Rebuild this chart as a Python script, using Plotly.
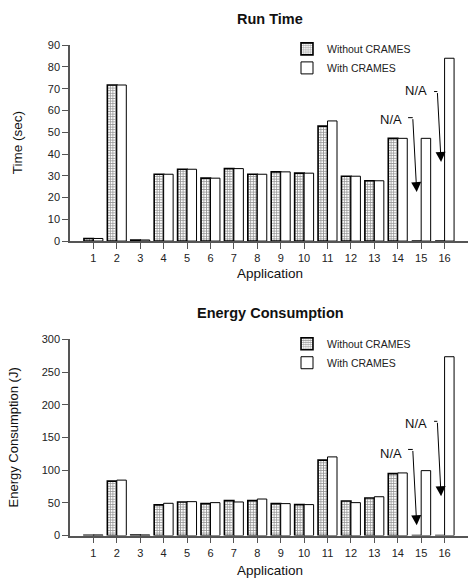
import plotly.graph_objects as go

apps = [str(i) for i in range(1, 17)]
time_without = [1.2, 71.7, 0.5, 30.7, 33.0, 28.9, 33.3, 30.7, 31.8, 31.2, 52.8, 29.8, 27.7, 47.2, 0, 0]
time_with = [1.2, 71.7, 0.5, 30.7, 33.0, 28.9, 33.3, 30.7, 31.8, 31.2, 55.2, 29.8, 27.7, 47.2, 47.2, 84.0]
energy_without = [0.5, 83.3, 1.0, 46.9, 51.4, 48.9, 53.4, 53.4, 48.9, 47.4, 115.3, 52.9, 57.4, 94.8, 0, 0]
energy_with = [1.0, 84.8, 1.0, 49.4, 51.9, 50.4, 51.4, 55.9, 48.9, 47.4, 120.3, 50.4, 59.4, 95.8, 99.3, 273.4]

x_num = list(range(1, 17))
FONT = "Arial, Liberation Sans, sans-serif"
AX = "#555555"

W, H = 468, 585
L = 70
PW = 398
R = W - L - PW


def px_x(p):
    return (p - L) / PW


def px_y(p):
    return (H - p) / H


fig = go.Figure()

pattern = dict(shape="+", size=2.6, solidity=0.5, fgcolor="#222222", bgcolor="white", fillmode="overlay")


def add_pair(yw, yn, xa, ya, leg):
    fig.add_trace(go.Bar(x=x_num, y=yw, name="Without CRAMES", xaxis=xa, yaxis=ya, legend=leg,
                         marker=dict(color="white", pattern=pattern, line=dict(color="black", width=1.6))))
    fig.add_trace(go.Bar(x=x_num, y=yn, name="With CRAMES", xaxis=xa, yaxis=ya, legend=leg,
                         marker=dict(color="white", line=dict(color="black", width=1))))


add_pair(time_without, time_with, "x", "y", "legend")
add_pair(energy_without, energy_with, "x2", "y2", "legend2")

XR = [0, 17]
common_x = dict(range=XR, tickmode="array", tickvals=x_num, ticktext=apps,
                showline=True, linecolor=AX, linewidth=1.5, ticks="outside", ticklen=6,
                tickcolor=AX, tickfont=dict(family=FONT, size=11, color="#222"),
                showgrid=False, zeroline=False, fixedrange=True)
common_y = dict(showline=True, linecolor=AX, linewidth=1.5, ticks="outside", ticklen=6,
                tickcolor=AX, tickfont=dict(family=FONT, size=11, color="#222"),
                showgrid=False, zeroline=False)

top_dom = [px_y(240), px_y(40)]
bot_dom = [px_y(540.7), px_y(340.3)]

fig.update_layout(
    width=W, height=H,
    margin=dict(l=L, r=R, t=0, b=0),
    paper_bgcolor="white", plot_bgcolor="white",
    barmode="group", bargap=0.19, bargroupgap=0,
    hovermode=False,
    font=dict(family=FONT, color="#222"),
    xaxis=dict(domain=[0, 1], anchor="y", **common_x),
    yaxis=dict(domain=top_dom, anchor="x", range=[0, 90], dtick=10, **common_y),
    xaxis2=dict(domain=[0, 1], anchor="y2", **common_x),
    yaxis2=dict(domain=bot_dom, anchor="x2", range=[0, 300], dtick=50, **common_y),
    legend=dict(x=px_x(287), y=px_y(29), xanchor="left", yanchor="top",
                font=dict(family=FONT, size=10.5, color="#222"), bgcolor="rgba(0,0,0,0)",
                tracegroupgap=0),
    legend2=dict(x=px_x(287), y=px_y(330), xanchor="left", yanchor="top",
                 font=dict(family=FONT, size=10.5, color="#222"), bgcolor="rgba(0,0,0,0)",
                 tracegroupgap=0),
    showlegend=True,
)

anns = [
    dict(text="<b>Run Time</b>", x=px_x(270), y=px_y(13), size=14.5, angle=0),
    dict(text="<b>Energy Consumption</b>", x=px_x(270), y=px_y(313), size=14.5, angle=0),
    dict(text="Application", x=px_x(270), y=px_y(273), size=13.5, angle=0),
    dict(text="Application", x=px_x(270), y=px_y(576), size=13.5, angle=0),
    dict(text="Time (sec)", x=px_x(17), y=px_y(140), size=13.5, angle=-90),
    dict(text="Energy Consumption (J)", x=px_x(13.5), y=px_y(441), size=13, angle=-90),
]
for a in anns:
    fig.add_annotation(text=a["text"], x=a["x"], y=a["y"], xref="paper", yref="paper",
                       showarrow=False, textangle=a["angle"], xanchor="center", yanchor="middle",
                       font=dict(family=FONT, size=a["size"], color="#111"))

# N/A callouts: (text x, text y, hook x0, hook x1, hook y, tip x, tip y)
na_top = [(13.73, 55.9, 14.44, 14.64, 56.7, 14.81, 22.5),
          (14.80, 69.3, 15.55, 15.69, 68.7, 15.85, 36.3)]
na_bot = [(13.73, 125.7, 14.44, 14.64, 131.7, 14.81, 16.0),
          (14.80, 171.0, 15.55, 15.69, 174.7, 15.85, 60.0)]

for items, xr, yr in [(na_top, "x", "y"), (na_bot, "x2", "y2")]:
    for tx, ty, hx0, hx1, hy, ptx, pty in items:
        fig.add_annotation(text="N/A", x=tx, y=ty, xref=xr, yref=yr, showarrow=False,
                           font=dict(family=FONT, size=13, color="#111"))
        fig.add_shape(type="line", x0=hx0, x1=hx1, y0=hy, y1=hy, xref=xr, yref=yr,
                      line=dict(color="black", width=1))
        fig.add_annotation(text="", x=ptx, y=pty, ax=hx1, ay=hy, xref=xr, yref=yr,
                           axref=xr, ayref=yr, showarrow=True, arrowhead=2, arrowsize=2,
                           arrowwidth=1, arrowcolor="black", standoff=0, startstandoff=0)

fig.write_html("out.html", post_script="document.body.style.margin='0px';",
               config={"displayModeBar": False})
